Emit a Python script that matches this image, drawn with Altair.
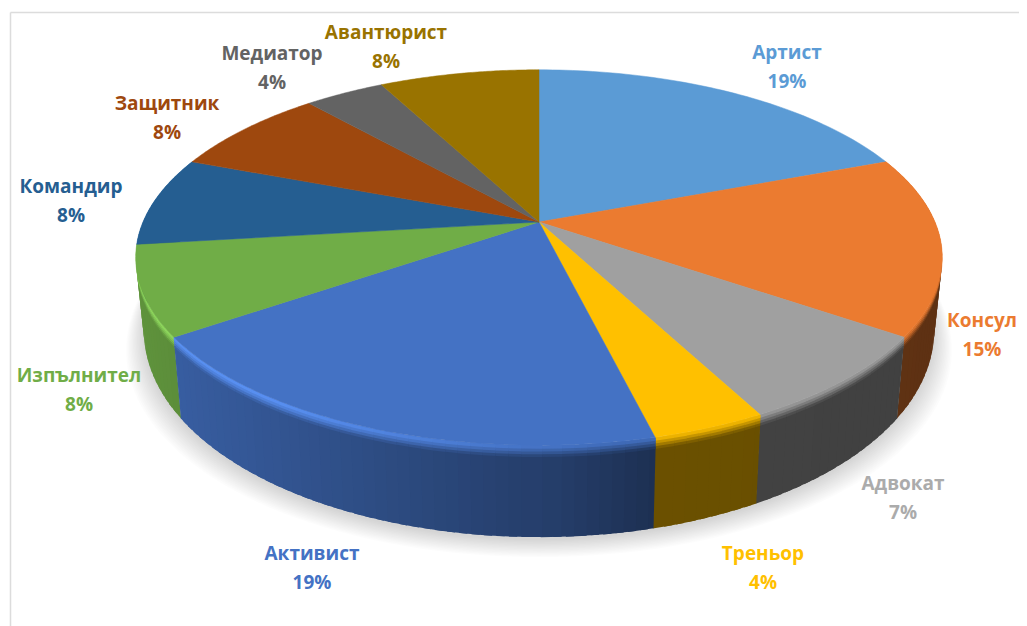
import numpy as np
import altair as alt

names = ["Артист", "Консул", "Адвокат", "Треньор", "Активист",
         "Изпълнител", "Командир", "Защитник", "Медиатор", "Авантюрист"]
counts = [5, 4, 2, 1, 5, 2, 2, 2, 1, 2]
pct_labels = ["19%", "15%", "7%", "4%", "19%", "8%", "8%", "8%", "4%", "8%"]
colors = ["#5B9BD5", "#EB7B30", "#A0A0A0", "#FFC000", "#4472C4",
          "#70AD47", "#255E91", "#9E480E", "#636363", "#997300"]
label_colors = ["#5B9BD5", "#EB7B30", "#ABABAB", "#FFC000", "#4472C4",
                "#70AD47", "#255E91", "#9E480E", "#636363", "#997300"]
label_x = [787, 982, 903, 763, 312, 79, 71, 167, 272, 386]
label_y = [66, 334, 497, 567, 567, 389, 200, 117, 67, 46]

OX, OY = 8, 8
APEX_X, APEX_Y = 539, 222
RADIUS, A, C = 396, 139, -0.189
LINE = 29


def project(theta):
    X, Y = np.sin(theta), -np.cos(theta)
    d = 1 + C * Y
    return APEX_X + RADIUS * X / d, (A * Y + APEX_Y) / d


def depth_point(theta, frac):
    x, y = project(theta)
    Y = -np.cos(theta)
    return APEX_X + (x - APEX_X) * (1 - 0.02 * frac), y + (68 + 24 * Y) * frac


def rgb(h):
    return np.array([int(h[i:i + 2], 16) for i in (1, 3, 5)], dtype=float)


def to_hex(c):
    return "#%02x%02x%02x" % tuple(int(round(v)) for v in np.clip(c, 0, 255))


def feature(points, fill, opacity=1.0):
    ring = [[float(x) - OX, float(y) - OY] for x, y in points]
    ring.append(ring[0])
    return {"type": "Feature", "geometry": {"type": "Polygon", "coordinates": [ring]},
            "properties": {"fill": fill, "opacity": opacity}}


total = sum(counts)
edges = np.cumsum([0] + counts) / total * 2 * np.pi

# soft shadow under the pie
shadow = []
ring_t = np.linspace(0, 2 * np.pi, 181)[:-1]
for e in np.linspace(18, 0, 14):
    pts = []
    for t in ring_t:
        x, y = depth_point(t, 1)
        pts.append((APEX_X + (x - APEX_X) * (1 + e / 400), y + 3 + e * 0.95))
    shadow.append(feature(pts, "#000000", 0.011))

# side wall, cut into shaded strips that are painted back to front
strips = []
bevel = [(0.0, 0.03), (0.03, 0.06), (0.06, 0.09), (0.09, 0.12)]
for i, base in enumerate(colors):
    top = rgb(base)
    n = max(2, int((edges[i + 1] - edges[i]) / np.radians(1.5)))
    ts = np.linspace(edges[i], edges[i + 1], n + 1)
    step = ts[1] - ts[0]
    for j, (a, b) in enumerate(zip(ts[:-1], ts[1:])):
        mid = (a + b) / 2
        if -np.cos(mid) < -0.35:
            continue
        tiny = np.radians(0.1)
        right_side = np.sin(mid) > 0
        if right_side:   # the strip further back lies on the smaller angle
            a2 = a - (step * 0.6 if j > 0 else tiny)
            b2 = b + (tiny if j < n - 1 else 0)
        else:
            a2 = a - (tiny if j > 0 else 0)
            b2 = b + (step * 0.6 if j < n - 1 else tiny)
        xm = project(mid)[0]
        shade = np.interp(xm, [134, 175, 540, 650, 950], [0.85, 0.82, 0.55, 0.42, 0.40])
        wall_c = top * shade
        hl = np.clip((610 - xm) / 330, 0, 1)
        bright = np.clip(top * 1.22 + 8, 0, 255)
        group = [feature([depth_point(a2, 0.11), depth_point(b2, 0.11),
                          depth_point(b2, 1), depth_point(a2, 1)], to_hex(wall_c))]
        for k in range(len(bevel) - 1, -1, -1):
            f0, f1 = bevel[k]
            m = (k + 0.5) / len(bevel)
            c = top + (wall_c - top) * m
            c = c + (bright - c) * hl * (1 - m)
            group.append(feature([depth_point(a2, f0), depth_point(b2, f0),
                                  depth_point(b2, f1 + 0.01), depth_point(a2, f1 + 0.01)], to_hex(c)))
        strips.append((-np.cos(mid), group))
strips.sort(key=lambda s: s[0])
wall = [f for _, group in strips for f in group]

# top faces
faces = []
for i, base in enumerate(colors):
    ts = np.linspace(edges[i], edges[i + 1], 61)
    faces.append(feature([(APEX_X, APEX_Y)] + [project(t) for t in ts], base))

labels = [
    {"text": f"{n}\n{p}", "lon": x - OX, "lat": y - OY - 13.5, "color": c}
    for n, p, x, y, c in zip(names, pct_labels, label_x, label_y, label_colors)
]
frame = [
    {"lon": 10.5 - OX, "lat": 12.5 - OY, "order": 0, "part": "v"},
    {"lon": 10.5 - OX, "lat": 626 - OY, "order": 1, "part": "v"},
    {"lon": 10.5 - OX, "lat": 12.5 - OY, "order": 0, "part": "h"},
    {"lon": 1027 - OX, "lat": 12.5 - OY, "order": 1, "part": "h"},
]

proj = dict(type="identity", scale=1, translate=[0, 0])

frame_layer = alt.Chart(alt.Data(values=frame)).mark_line(color="#dcdcdc", strokeWidth=1.5).encode(
    longitude="lon:Q", latitude="lat:Q", order="order:Q", detail="part:N"
).project(**proj)

shadow_layer = alt.Chart(alt.Data(values=shadow)).mark_geoshape(strokeWidth=0).encode(
    fill=alt.Fill("properties.fill:N", scale=None),
    opacity=alt.Opacity("properties.opacity:Q", scale=None),
).project(**proj)

wall_layer = alt.Chart(alt.Data(values=wall)).mark_geoshape(strokeWidth=0).encode(
    fill=alt.Fill("properties.fill:N", scale=None),
).project(**proj)

face_layer = alt.Chart(alt.Data(values=faces)).mark_geoshape(strokeWidth=0.5).encode(
    fill=alt.Fill("properties.fill:N", scale=None),
    stroke=alt.Stroke("properties.fill:N", scale=None),
).project(**proj)

label_layer = alt.Chart(alt.Data(values=labels)).mark_text(
    font="Open Sans", fontSize=19, fontWeight="bold", lineBreak="\n", lineHeight=LINE,
    align="center", baseline="middle"
).encode(
    longitude="lon:Q", latitude="lat:Q", text="text:N",
    color=alt.Color("color:N", scale=None),
).project(**proj)

chart = alt.layer(frame_layer, shadow_layer, wall_layer, face_layer, label_layer).properties(
    width=1011, height=618, padding=0, background="white"
).configure_view(stroke=None)

chart.save("out.html", embed_options={"renderer": "svg", "actions": False})
